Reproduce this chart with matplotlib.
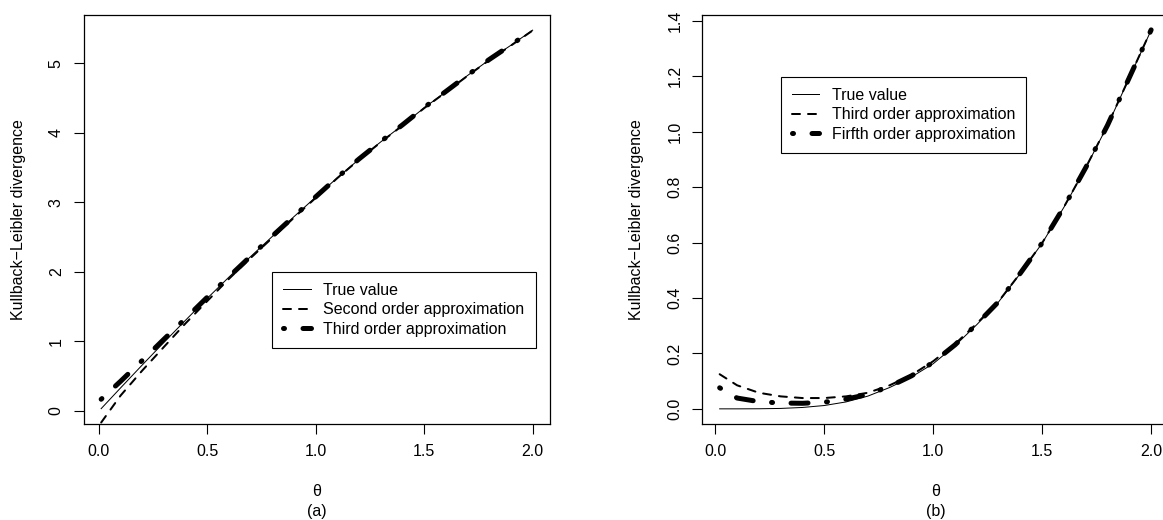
import matplotlib
matplotlib.use("Agg")
import matplotlib.pyplot as plt

plt.rcParams['font.family'] = ['Liberation Sans', 'DejaVu Sans']

# ---------------- data ----------------
theta_a = [0.01, 0.1, 0.2, 0.3, 0.4, 0.5, 0.6, 0.7, 0.8, 0.9, 1.0,
           1.1, 1.2, 1.3, 1.4, 1.5, 1.6, 1.7, 1.8, 1.9, 2.0]
kl_true_a = [0.03, 0.33, 0.66, 0.985, 1.305, 1.62, 1.925, 2.22, 2.51, 2.795, 3.075,
             3.355, 3.62, 3.87, 4.11, 4.36, 4.59, 4.825, 5.05, 5.26, 5.477]
kl_second_a = [-0.17, 0.22, 0.58, 0.92, 1.26, 1.58, 1.90, 2.20, 2.49, 2.78, 3.065,
               3.35, 3.615, 3.865, 4.105, 4.355, 4.585, 4.82, 5.045, 5.255, 5.472]
kl_third_a = [0.165, 0.425, 0.725, 1.03, 1.33, 1.635, 1.93, 2.225, 2.515, 2.80, 3.08,
              3.36, 3.625, 3.875, 4.115, 4.365, 4.595, 4.83, 5.055, 5.265, 5.48]

theta_b = [0.02, 0.1, 0.2, 0.3, 0.4, 0.5, 0.6, 0.7, 0.8, 0.9, 1.0,
           1.1, 1.2, 1.3, 1.4, 1.5, 1.6, 1.7, 1.8, 1.9, 2.0]
kl_true_b = [0.0, 0.0, 0.0003, 0.0015, 0.005, 0.012, 0.025, 0.046, 0.077, 0.115, 0.163,
             0.228, 0.304, 0.386, 0.489, 0.598, 0.728, 0.870, 1.023, 1.195, 1.367]
kl_third_b = [0.125, 0.085, 0.058, 0.045, 0.039, 0.039, 0.045, 0.058, 0.085, 0.122, 0.172,
              0.234, 0.308, 0.388, 0.490, 0.599, 0.729, 0.871, 1.024, 1.196, 1.368]
kl_fifth_b = [0.076, 0.039, 0.026, 0.021, 0.020, 0.024, 0.035, 0.052, 0.081, 0.119, 0.168,
              0.231, 0.306, 0.387, 0.490, 0.599, 0.729, 0.871, 1.024, 1.196, 1.368]

labels_a = ["True value", "Second order approximation", "Third order approximation"]
labels_b = ["True value", "Third order approximation", "Firfth order approximation"]

x_ticks = [0.0, 0.5, 1.0, 1.5, 2.0]
x_ticklabels = ["0.0", "0.5", "1.0", "1.5", "2.0"]
y_ticks_a = [0, 1, 2, 3, 4, 5]
y_ticklabels_a = ["0", "1", "2", "3", "4", "5"]
y_ticks_b = [0.0, 0.2, 0.4, 0.6, 0.8, 1.0, 1.2, 1.4]
y_ticklabels_b = ["0.0", "0.2", "0.4", "0.6", "0.8", "1.0", "1.2", "1.4"]

# ---------------- styling ----------------
W, H = 1163, 520
fig = plt.figure(figsize=(W / 100, H / 100), dpi=100)

PX = 0.72  # points per pixel at dpi 100
FS = 11.5
solid_kw = dict(color='black', lw=1 * PX, linestyle='-')
dash_kw = dict(color='black', lw=2 * PX, linestyle=(0, (4, 4)), dash_capstyle='round')
dotdash_kw = dict(color='black', lw=5 * PX, linestyle=(0, (0.2, 3.7, 3.4, 3.7)),
                  dash_capstyle='round')


def make_panel(rect, x, ys, labels, xlim, ylim, yticks, yticklabels, leg_anchor, tag):
    ax = fig.add_axes(rect)
    h1, = ax.plot(x, ys[0], **solid_kw)
    h2, = ax.plot(x, ys[1], **dash_kw)
    h3, = ax.plot(x, ys[2], **dotdash_kw)
    ax.set_xlim(*xlim)
    ax.set_ylim(*ylim)
    ax.set_xticks(x_ticks)
    ax.set_xticklabels(x_ticklabels)
    ax.set_yticks(yticks)
    ax.set_yticklabels(yticklabels, rotation=90, va='center')
    ax.tick_params(axis='both', direction='out', length=7, width=0.8,
                   labelsize=FS, pad=7.5, colors='black')
    for s in ax.spines.values():
        s.set_linewidth(0.9)
        s.set_color('black')
    ax.set_ylabel("Kullback\u2212Leibler divergence", fontsize=FS)
    ax.yaxis.set_label_coords(-0.125, 0.5)
    ax.text(0.5, -0.166, "\u03b8", transform=ax.transAxes, ha='center', va='center', fontsize=FS)
    ax.text(0.5, -0.215, tag, transform=ax.transAxes, ha='center', va='center', fontsize=FS)
    leg = ax.legend([h1, h2, h3], labels, loc='upper left', bbox_to_anchor=leg_anchor,
                    borderaxespad=0, fontsize=FS, handlelength=1.7, handletextpad=0.8,
                    borderpad=0.7, labelspacing=0.28, fancybox=False, framealpha=1,
                    edgecolor='black')
    leg.get_frame().set_linewidth(0.8)
    return ax


ax_w = 466 / W
ax_h = 409 / H
ax_b = (H - 424) / H

make_panel([83.9 / W, ax_b, ax_w, ax_h], theta_a, [kl_true_a, kl_second_a, kl_third_a],
           labels_a, (-0.0696, 2.0796), (-0.191, 5.695), y_ticks_a, y_ticklabels_a,
           (0.4043, 0.3724), "(a)")
make_panel([702.4 / W, ax_b, ax_w, ax_h], theta_b, [kl_true_b, kl_third_b, kl_fifth_b],
           labels_b, (-0.0592, 2.0792), (-0.0547, 1.4217), y_ticks_b, y_ticklabels_b,
           (0.168, 0.849), "(b)")

fig.savefig("out.png", dpi=100)
